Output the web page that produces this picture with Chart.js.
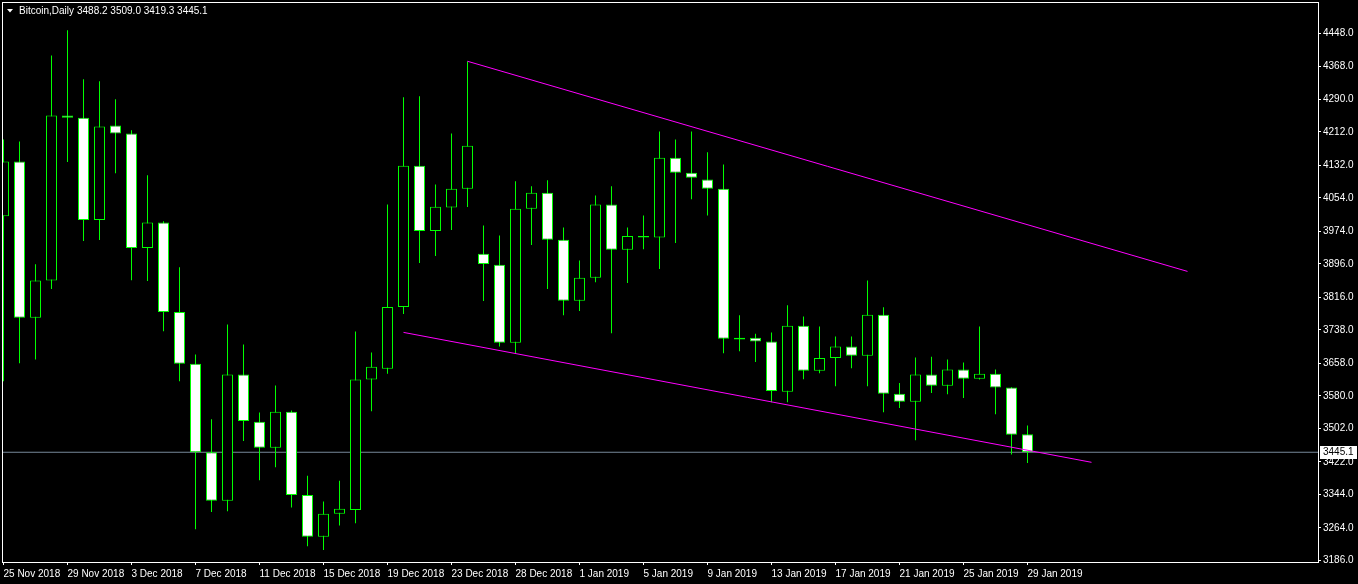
<!DOCTYPE html>
<html lang="en">
<head>
  <meta charset="UTF-8">
  <title>Bitcoin, Daily</title>
  <script src="https://cdn.jsdelivr.net/npm/chart.js"></script>
  <style>
    html, body { margin: 0; padding: 0; background: #000; overflow: hidden; }
    canvas { display: block; }
  </style>
</head>
<body>
  <canvas id="candles" width="1358" height="584"></canvas>

  <script>
    // daily bars, 25 Dec is missing in the feed
    const dates = [
      '25 Nov 2018', '26 Nov 2018', '27 Nov 2018', '28 Nov 2018', '29 Nov 2018', '30 Nov 2018',
      '1 Dec 2018', '2 Dec 2018', '3 Dec 2018', '4 Dec 2018', '5 Dec 2018', '6 Dec 2018',
      '7 Dec 2018', '8 Dec 2018', '9 Dec 2018', '10 Dec 2018', '11 Dec 2018', '12 Dec 2018',
      '13 Dec 2018', '14 Dec 2018', '15 Dec 2018', '16 Dec 2018', '17 Dec 2018', '18 Dec 2018',
      '19 Dec 2018', '20 Dec 2018', '21 Dec 2018', '22 Dec 2018', '23 Dec 2018', '24 Dec 2018',
      '26 Dec 2018', '27 Dec 2018', '28 Dec 2018', '29 Dec 2018', '30 Dec 2018', '31 Dec 2018',
      '1 Jan 2019', '2 Jan 2019', '3 Jan 2019', '4 Jan 2019', '5 Jan 2019', '6 Jan 2019',
      '7 Jan 2019', '8 Jan 2019', '9 Jan 2019', '10 Jan 2019', '11 Jan 2019', '12 Jan 2019',
      '13 Jan 2019', '14 Jan 2019', '15 Jan 2019', '16 Jan 2019', '17 Jan 2019', '18 Jan 2019',
      '19 Jan 2019', '20 Jan 2019', '21 Jan 2019', '22 Jan 2019', '23 Jan 2019', '24 Jan 2019',
      '25 Jan 2019', '26 Jan 2019', '27 Jan 2019', '28 Jan 2019', '29 Jan 2019'
    ];
    const opens = [
      4010, 4141, 3767, 3856, 4251, 4246, 4001, 4227, 4208, 3934, 3995, 3781, 3657,
      3445, 3329, 3631, 3518, 3456, 3542, 3343, 3243, 3298, 3307, 3619, 3645, 3793,
      4131, 3975, 4031, 4076, 3920, 3894, 3707, 4028, 4066, 3954, 3808, 3863, 4038,
      3930, 3963, 3959, 4150, 4114, 4098, 4076, 3719, 3719, 3710, 3590, 3748, 3640,
      3671, 3698, 3676, 3774, 3585, 3566, 3631, 3604, 3643, 3621, 3633, 3600, 3488.2
    ];
    const highs = [
      4194, 4189, 3895, 4395, 4455, 4338, 4333, 4290, 4216, 4108, 3998, 3888, 3679,
      3524, 3751, 3703, 3540, 3605, 3545, 3389, 3327, 3377, 3734, 3684, 4038, 4295,
      4297, 4086, 4208, 4381, 3988, 3964, 4094, 4082, 4096, 3983, 3904, 4060, 4082,
      3983, 4012, 4213, 4194, 4213, 4163, 4134, 3773, 3729, 3732, 3797, 3770, 3746,
      3722, 3722, 3856, 3792, 3611, 3672, 3674, 3667, 3660, 3746, 3643, 3601, 3509.0
    ];
    const lows = [
      3615, 3658, 3667, 3836, 4140, 3951, 3953, 4113, 3857, 3855, 3735, 3615, 3261,
      3302, 3304, 3472, 3378, 3409, 3313, 3220, 3211, 3270, 3275, 3543, 3633, 3776,
      3898, 3915, 3977, 4032, 3807, 3698, 3681, 3941, 3836, 3773, 3783, 3852, 3730,
      3850, 3931, 3884, 3946, 4051, 4012, 3682, 3687, 3661, 3565, 3565, 3620, 3634,
      3603, 3646, 3603, 3541, 3551, 3474, 3587, 3584, 3575, 3619, 3536, 3440, 3419.3
    ];
    const closes = [
      4141, 3767, 3856, 4251, 4246, 4001, 4225, 4208, 3934, 3995, 3781, 3657, 3445,
      3329, 3631, 3520, 3456, 3542, 3343, 3243, 3298, 3310, 3619, 3650, 3793, 4131,
      3975, 4033, 4076, 4179, 3896, 3707, 4028, 4066, 3954, 3808, 3863, 4038, 3930,
      3963, 3959, 4150, 4114, 4102, 4076, 3717, 3715, 3710, 3592, 3748, 3640, 3671,
      3698, 3676, 3774, 3585, 3566, 3631, 3604, 3643, 3621, 3633, 3600, 3487, 3445.1
    ];

    const yTicks = [4448, 4368, 4290, 4212, 4132, 4054, 3974, 3896, 3816, 3738, 3658, 3580, 3502, 3422, 3344, 3264, 3186];
    const xTickIdx = [0, 4, 8, 12, 16, 20, 24, 28, 32, 36, 40, 44, 48, 52, 56, 60, 64];

    // trend lines drawn on the chart (bar index, price)
    const upperTrend = [{ x: 29, y: 4381 }, { x: 74, y: 3878 }];
    const lowerTrend = [{ x: 25, y: 3732 }, { x: 68, y: 3421 }];

    const symbol = 'Bitcoin,Daily';
    const GREEN = '#00ff00';
    const FONT = '"Liberation Sans", Arial, sans-serif';
    const X_MIN = -0.09375, X_MAX = 82.15625;

    const last = closes.length - 1;
    const bodies = dates.map((d, i) => ({ x: i, y: [opens[i], closes[i]] }));
    const wicks = dates.map((d, i) => ({ x: i, y: [lows[i], highs[i]] }));
    const bodyColors = dates.map((d, i) => closes[i] < opens[i] ? '#ffffff' : '#000000');
    const bidLine = [{ x: X_MIN, y: closes[last] }, { x: X_MAX, y: closes[last] }];

    const noPad = s => { s.paddingTop = 0; s.paddingBottom = 0; s.paddingLeft = 0; s.paddingRight = 0; };

    const terminal = {
      id: 'terminal',
      afterDraw(chart) {
        const { ctx, chartArea: a, scales } = chart;
        ctx.save();
        // frame
        ctx.strokeStyle = '#ffffff';
        ctx.lineWidth = 1;
        ctx.strokeRect(a.left + 0.5, a.top + 0.5, a.right - a.left, a.bottom - a.top);

        // header
        ctx.fillStyle = '#ffffff';
        ctx.beginPath();
        ctx.moveTo(7, 9);
        ctx.lineTo(13, 9);
        ctx.lineTo(10, 12.5);
        ctx.closePath();
        ctx.fill();
        ctx.font = '10px ' + FONT;
        ctx.textBaseline = 'middle';
        ctx.fillText(symbol, 19, 11);
        const ohlc = [opens[last], highs[last], lows[last], closes[last]].map(v => v.toFixed(1)).join(' ');
        ctx.fillText(ohlc, 77, 11);

        // bid price tag
        const y = Math.round(scales.y.getPixelForValue(closes[last]));
        ctx.fillRect(1320, y - 6, 37, 13);
        ctx.fillStyle = '#000000';
        ctx.fillText(closes[last].toFixed(1), 1323, y + 0.5);
        ctx.restore();
      }
    };

    new Chart(document.getElementById('candles'), {
      type: 'bar',
      data: {
        datasets: [
          {
            type: 'line', data: upperTrend, borderColor: '#ff00ff', borderWidth: 1,
            pointRadius: 0, order: 0
          },
          {
            type: 'line', data: lowerTrend, borderColor: '#ff00ff', borderWidth: 1,
            pointRadius: 0, order: 0
          },
          {
            label: 'body', data: bodies, backgroundColor: bodyColors, borderColor: GREEN,
            borderWidth: 1, borderSkipped: false, barThickness: 11, grouped: false,
            inflateAmount: 0, order: 1
          },
          {
            label: 'wick', data: wicks, backgroundColor: GREEN, borderWidth: 0,
            barThickness: 1, grouped: false, inflateAmount: 0, order: 2
          },
          {
            type: 'line', data: bidLine, borderColor: '#778899', borderWidth: 1,
            pointRadius: 0, order: 3
          }
        ]
      },
      options: {
        responsive: false,
        animation: false,
        layout: { padding: { left: 2, top: 2, right: 0, bottom: 0 } },
        plugins: {
          legend: { display: false },
          tooltip: { enabled: false }
        },
        scales: {
          x: {
            type: 'linear',
            position: 'bottom',
            offset: false,
            min: X_MIN,
            max: X_MAX,
            afterBuildTicks: s => { s.ticks = xTickIdx.map(v => ({ value: v })); },
            afterFit: s => { s.height = 22; noPad(s); },
            border: { display: false },
            grid: { offset: false, drawOnChartArea: false, drawTicks: true, tickLength: 3, tickColor: '#ffffff' },
            ticks: {
              color: '#ffffff', font: { family: FONT, size: 10 }, align: 'start',
              maxRotation: 0, autoSkip: false, padding: 3,
              callback: v => dates[v]
            }
          },
          y: {
            position: 'right',
            min: 3182.4,
            max: 4522.9,
            afterBuildTicks: s => { s.ticks = yTicks.map(v => ({ value: v })); },
            afterFit: s => { s.width = 40; noPad(s); },
            border: { display: false },
            grid: { drawOnChartArea: false, drawTicks: true, tickLength: 3, tickColor: '#ffffff' },
            ticks: {
              color: '#ffffff', font: { family: FONT, size: 10 }, padding: 2,
              callback: v => v.toFixed(1)
            }
          }
        }
      },
      plugins: [terminal]
    });
  </script>
</body>
</html>
